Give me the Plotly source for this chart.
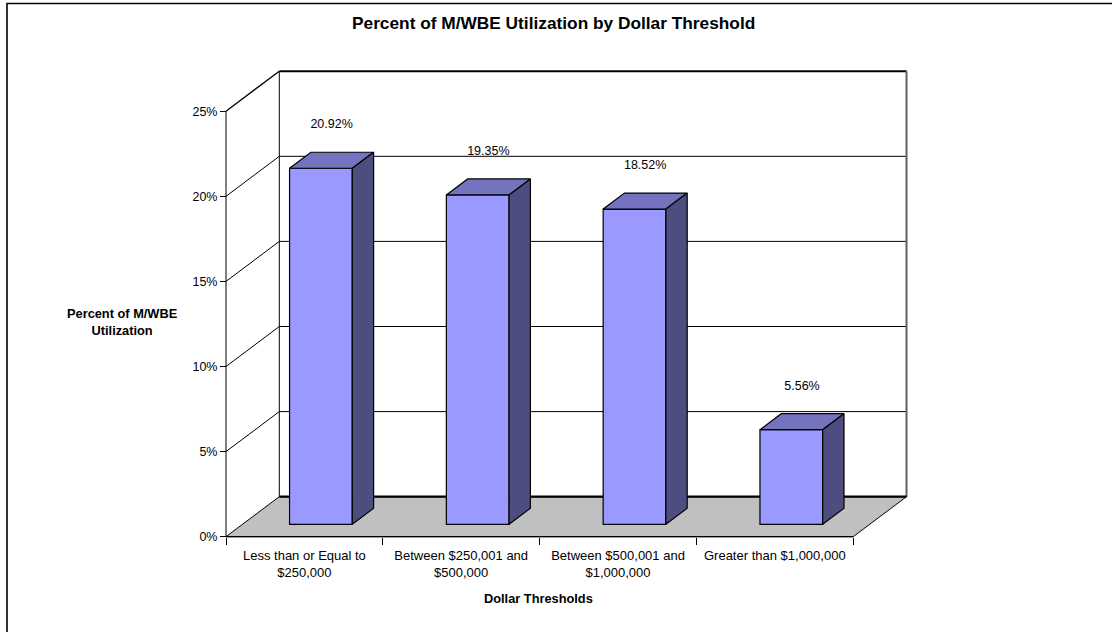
import plotly.graph_objects as go

# ---- data ----
categories = [
    "Less than or Equal to<br>$250,000",
    "Between $250,001 and<br>$500,000",
    "Between $500,001 and<br>$1,000,000",
    "Greater than $1,000,000",
]
values = [20.92, 19.35, 18.52, 5.56]
value_labels = ["20.92%", "19.35%", "18.52%", "5.56%"]
y_ticks = [0, 5, 10, 15, 20, 25]
y_tick_text = ["0%", "5%", "10%", "15%", "20%", "25%"]

# ---- 3D look: oblique projection of the depth axis ----
W, H = 1112, 632
X0_PX, X_SCALE = 226.0, 156.8     # pixel of category 0, pixels per category
Y0_PX, Y_SCALE = 536.7, 17.02     # pixel of 0 %, pixels per percentage point
DEPTH_X = 53.3 / X_SCALE          # full depth, in category units
DEPTH_Y = 40.0 / Y_SCALE          # full depth, in percentage points
BAR_HALF = 0.2
D_FRONT, D_BACK = 0.31, 0.71
N = len(categories)
Y_TOP = y_ticks[-1]
LABEL_LIFT = 35.0 / Y_SCALE

FRONT = "#9999FF"
TOP = "#7373BF"
SIDE = "#4D4D80"
FLOOR = "#C0C0C0"
FONT = "Liberation Sans, Arial, sans-serif"


def proj(c, v, d):
    return c + d * DEPTH_X, v + d * DEPTH_Y


def poly(points):
    xs, ys = zip(*(proj(*p) for p in points + [points[0]]))
    return list(xs), list(ys)


def path(points):
    pts = [proj(*p) for p in points]
    return "M " + " L ".join(f"{x:.5f},{y:.5f}" for x, y in pts) + " Z"


fig = go.Figure()
shapes = []


def seg(p, q, color="black", width=1, layer="below"):
    (x0, y0), (x1, y1) = proj(*p), proj(*q)
    shapes.append(dict(type="line", xref="x", yref="y", x0=x0, y0=y0, x1=x1, y1=y1,
                       line=dict(color=color, width=width), layer=layer))


# back wall and side wall gridlines
for v in y_ticks[1:-1]:
    seg((0, v, 1), (N, v, 1))
    seg((0, v, 0), (0, v, 1))
# wall edges
seg((0, 0, 1), (0, Y_TOP, 1))
seg((0, Y_TOP, 0), (0, Y_TOP, 1), width=1.3)
seg((0, Y_TOP, 1), (N, Y_TOP, 1), width=2)
seg((N, 0, 1), (N, Y_TOP, 1), color="#606060", width=2)
seg((0, 0, 0), (0, Y_TOP, 0), layer="above")

# floor (below every trace)
shapes.append(dict(type="path", xref="x", yref="y",
                   path=path([(0, 0, 0), (N, 0, 0), (N, 0, 1), (0, 0, 1)]),
                   fillcolor=FLOOR, line=dict(color="black", width=1), layer="below"))
seg((0, 0, 1), (N, 0, 1), width=2.2)
# front edge of the floor = category axis line
seg((0, 0, 0), (N, 0, 0), width=1.3, layer="above")

# bars: front faces
centers = [i + 0.5 for i in range(N)]
fig.add_trace(go.Bar(
    x=[c + D_FRONT * DEPTH_X for c in centers],
    y=values,
    base=D_FRONT * DEPTH_Y,
    width=2 * BAR_HALF,
    marker=dict(color=FRONT, line=dict(color="black", width=1.2)),
    hoverinfo="skip",
))

# bars: top and side faces
for c, v in zip(centers, values):
    tx, ty = poly([(c - BAR_HALF, v, D_FRONT), (c + BAR_HALF, v, D_FRONT),
                   (c + BAR_HALF, v, D_BACK), (c - BAR_HALF, v, D_BACK)])
    fig.add_trace(go.Scatter(x=tx, y=ty, mode="lines", fill="toself", fillcolor=TOP,
                             line=dict(color="black", width=1.2), hoverinfo="skip"))
    sx, sy = poly([(c + BAR_HALF, 0, D_FRONT), (c + BAR_HALF, v, D_FRONT),
                   (c + BAR_HALF, v, D_BACK), (c + BAR_HALF, 0, D_BACK)])
    fig.add_trace(go.Scatter(x=sx, y=sy, mode="lines", fill="toself", fillcolor=SIDE,
                             line=dict(color="black", width=1.2), hoverinfo="skip"))

# value labels
mid = (D_FRONT + D_BACK) / 2
lx = [proj(c, v, mid)[0] for c, v in zip(centers, values)]
ly = [proj(c, v, mid)[1] + LABEL_LIFT for c, v in zip(centers, values)]
fig.add_trace(go.Scatter(x=lx, y=ly, mode="text", text=value_labels,
                         textposition="middle center",
                         textfont=dict(family=FONT, size=12.5, color="black"),
                         hoverinfo="skip"))

x_range = [(0 - X0_PX) / X_SCALE, (W - X0_PX) / X_SCALE]
y_range = [(Y0_PX - H) / Y_SCALE, Y0_PX / Y_SCALE]

# outer frame
shapes.append(dict(type="rect", xref="paper", yref="paper",
                   x0=7 / W, y0=-0.05, x1=1.05, y1=1 - 3.5 / H,
                   line=dict(color="black", width=1.6), layer="above"))

annotations = [
    dict(text="<b>Percent of M/WBE Utilization by Dollar Threshold</b>",
         xref="paper", yref="paper", x=553 / W, y=1 - 23 / H,
         showarrow=False, font=dict(family=FONT, size=17.3, color="black"),
         xanchor="center", yanchor="middle"),
    dict(text="<b>Percent of M/WBE<br>Utilization</b>",
         xref="paper", yref="paper", x=122 / W, y=1 - 321.5 / H,
         showarrow=False, font=dict(family=FONT, size=12.8, color="black"),
         xanchor="center", yanchor="middle", align="center"),
    dict(text="<b>Dollar Thresholds</b>",
         xref="paper", yref="paper", x=538 / W, y=1 - 598 / H,
         showarrow=False, font=dict(family=FONT, size=12.8, color="black"),
         xanchor="center", yanchor="middle"),
]

fig.update_layout(
    width=W, height=H,
    margin=dict(l=0, r=0, t=0, b=0, autoexpand=False),
    paper_bgcolor="white", plot_bgcolor="white",
    showlegend=False,
    shapes=shapes,
    annotations=annotations,
    font=dict(family=FONT, size=13, color="black"),
    xaxis=dict(range=x_range, anchor="free", position=(H - Y0_PX) / H,
               tickmode="array", tickvals=centers, ticktext=categories,
               ticks="", showgrid=False, zeroline=False, showline=False,
               ticklabelstandoff=9,
               tickfont=dict(family=FONT, size=13, color="black"),
               minor=dict(tickmode="array", tickvals=list(range(N + 1)),
                          ticks="outside", ticklen=7, tickcolor="black", tickwidth=1,
                          showgrid=False),
               fixedrange=True),
    yaxis=dict(range=y_range, anchor="free", position=X0_PX / W,
               tickmode="array", tickvals=y_ticks, ticktext=y_tick_text,
               ticks="outside", ticklen=6, tickcolor="black", tickwidth=1,
               showgrid=False, zeroline=False, showline=False,
               tickfont=dict(family=FONT, size=12.5, color="black"),
               fixedrange=True),
)

fig.write_html("out.html", config={"displayModeBar": False})
